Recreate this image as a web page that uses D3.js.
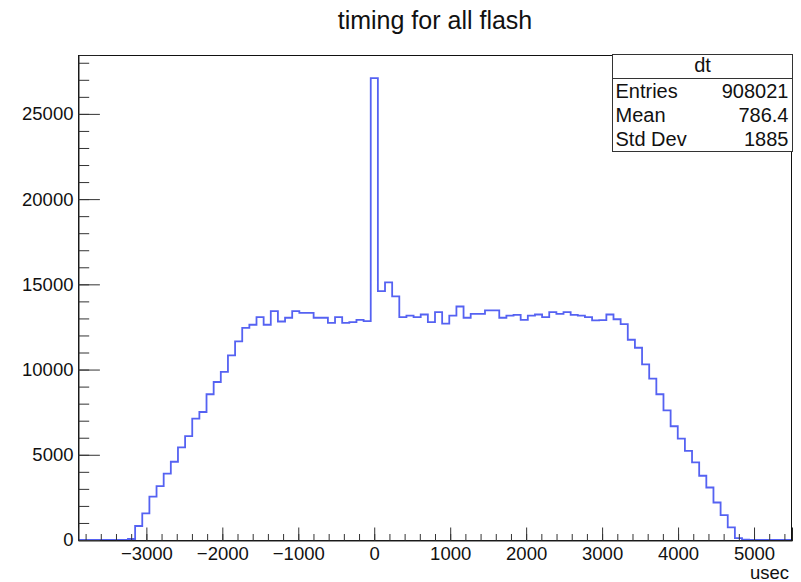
<!DOCTYPE html>
<html><head><meta charset="utf-8">
<script src="https://cdn.jsdelivr.net/npm/d3@7/dist/d3.min.js"></script>
<style>body{margin:0;background:#fff}svg{display:block}</style>
</head><body>
<svg id="c" width="801" height="582"></svg>
<script>
// ---------------- data ----------------
const chartTitle = "timing for all flash";
const histName = "dt";
const xAxisTitle = "usec";
const xMin = -3900, xMax = 5500;          // histogram range (100 bins)
const binCounts = [
  0, 0, 0, 0, 0, 0, 0, 60, 820, 1560,
  2540, 3160, 3900, 4590, 5430, 6090, 7120, 7510, 8550, 9270,
  9860, 10830, 11650, 12450, 12630, 13080, 12630, 13430, 12820, 13040,
  13430, 13330, 13330, 13040, 13040, 12740, 13080, 12740, 12780, 12920,
  12840, 27100, 14600, 15120, 14290, 13080, 13170, 13080, 13230, 12780,
  13370, 12690, 13170, 13700, 13040, 13270, 13270, 13470, 13470, 13040,
  13170, 13210, 12920, 13170, 13230, 13080, 13370, 13270, 13370, 13210,
  13170, 13080, 12880, 12900, 13230, 12950, 12660, 11750, 11280, 10300,
  9465, 8550, 7610, 6675, 5950, 5230, 4550, 3770, 3080, 2200,
  1460, 740, 110, 20, 0, 0, 0, 0, 0, 0
];
const xMajorTicks = [-3000, -2000, -1000, 0, 1000, 2000, 3000, 4000, 5000];
const xMinorTicks = d3.range(-3800, 5500, 200);
const yMajorTicks = [0, 5000, 10000, 15000, 20000, 25000];
const yMinorTicks = d3.range(0, 28001, 1000);
const statLabels = ["Entries", "Mean", "Std Dev"];
const statValues = ["908021", "786.4", "1885"];

// ---------------- layout ----------------
const svg = d3.select("#c");
const font = "'Liberation Sans', Arial, Helvetica, sans-serif";
const L = 78, R = 792, T = 55, B = 540;
const x = d3.scaleLinear().domain([xMin, xMax]).range([L, R]);
const yTop = d3.max(binCounts) * 1.05;
const y = d3.scaleLinear().domain([0, yTop]).range([B, T]);

svg.append("rect").attr("width", 801).attr("height", 582).attr("fill", "#fff");

// histogram step line
const nb = binCounts.length, bw = (xMax - xMin) / nb;
const pts = binCounts.map((c, i) => [xMin + i * bw, c]);
pts.push([xMax, binCounts[nb - 1]]);
const line = d3.line().x(d => x(d[0])).y(d => y(d[1])).curve(d3.curveStepAfter);
svg.append("path").attr("d", line(pts)).attr("fill", "none")
  .attr("stroke", "#5562f2").attr("stroke-width", 1.8);

// frame
svg.append("rect").attr("x", L + 0.5).attr("y", T + 0.5)
  .attr("width", R - L - 1).attr("height", B - T)
  .attr("fill", "none").attr("stroke", "#111").attr("stroke-width", 1);

// x axis
const gx = svg.append("g").attr("transform", `translate(0,${B + 0.5})`);
gx.call(d3.axisBottom(x).tickValues(xMinorTicks).tickSize(-6.5).tickFormat(""));
gx.call(g => g.select(".domain").remove());
const gx2 = svg.append("g").attr("transform", `translate(0,${B + 0.5})`);
gx2.call(d3.axisBottom(x).tickValues(xMajorTicks).tickSize(-13).tickPadding(6)
  .tickFormat(d => d < 0 ? "\u2212" + Math.abs(d) : String(d)));
gx2.select(".domain").attr("stroke", "#222");
[gx, gx2].forEach(g => g.selectAll(".tick line").attr("stroke", "#333"));
gx2.selectAll("text").attr("font-family", font).attr("font-size", 18.5).attr("fill", "#111");

// y axis
const gy = svg.append("g").attr("transform", `translate(${L + 0.5},0)`);
gy.call(d3.axisLeft(y).tickValues(yMinorTicks).tickSize(-10.7).tickFormat(""));
gy.call(g => g.select(".domain").remove());
const gy2 = svg.append("g").attr("transform", `translate(${L + 0.5},0)`);
gy2.call(d3.axisLeft(y).tickValues(yMajorTicks).tickSize(-21.4).tickPadding(5)
  .tickFormat(d => String(d)));
gy2.select(".domain").attr("stroke", "#222");
[gy, gy2].forEach(g => g.selectAll(".tick line").attr("stroke", "#333"));
gy2.selectAll("text").attr("font-family", font).attr("font-size", 18.5).attr("fill", "#111");

// axis title
svg.append("text").attr("x", 789).attr("y", 579).attr("text-anchor", "end")
  .attr("font-family", font).attr("font-size", 18.5).attr("fill", "#111").text(xAxisTitle);

// title
svg.append("text").attr("x", 435).attr("y", 29).attr("text-anchor", "middle")
  .attr("font-family", font).attr("font-size", 25).attr("fill", "#111").text(chartTitle);

// stats box
const bx0 = 612.5, bx1 = 792.5, by0 = 54.5, bsep = 78.5, by1 = 151.5;
const sb = svg.append("g");
sb.append("rect").attr("x", bx0).attr("y", by0).attr("width", bx1 - bx0).attr("height", by1 - by0)
  .attr("fill", "#fff").attr("stroke", "#333");
sb.append("line").attr("x1", bx0).attr("x2", bx1).attr("y1", bsep).attr("y2", bsep).attr("stroke", "#333");
sb.append("text").attr("x", (bx0 + bx1) / 2).attr("y", 72).attr("text-anchor", "middle")
  .attr("font-family", font).attr("font-size", 20).attr("fill", "#111").text(histName);
statLabels.forEach((s, i) => {
  const yy = 98 + i * 24;
  sb.append("text").attr("x", bx0 + 3).attr("y", yy).attr("font-family", font)
    .attr("font-size", 20).attr("fill", "#111").text(s);
  sb.append("text").attr("x", bx1 - 4).attr("y", yy).attr("text-anchor", "end").attr("font-family", font)
    .attr("font-size", 20).attr("fill", "#111").text(statValues[i]);
});
</script>
</body></html>
